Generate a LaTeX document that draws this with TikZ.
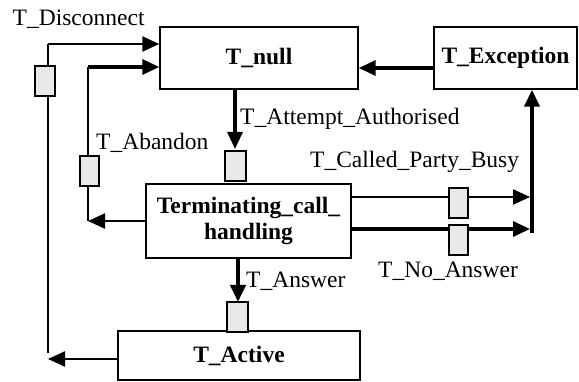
\documentclass[tikz,border=0pt]{standalone}
\usepackage{fontspec}
\setmainfont{Liberation Serif}
\usetikzlibrary{arrows.meta}
\begin{document}
\begin{tikzpicture}[x=1pt,y=-1pt,
  state/.style={draw,line width=1.4pt,inner sep=0pt,font=\fontsize{23.5}{26}\selectfont\bfseries,align=center},
  port/.style={draw,line width=1.4pt,fill=gray!18,inner sep=0pt,minimum width=20pt,minimum height=30pt},
  lbl/.style={inner sep=0pt,anchor=base west,font=\fontsize{23.5}{26}\selectfont},
  tip/.style={-{Triangle[length=17pt,width=15pt]}},
  thin/.style={line width=1.5pt},
  mid/.style={line width=2.4pt},
  thick3/.style={line width=3.2pt},
  thick4/.style={line width=4pt}]
\useasboundingbox (0,0) rectangle (579,382);
% states
\node[state,minimum width=198pt,minimum height=62pt] (null) at (259,58) {T\_null};
\node[state,minimum width=143pt,minimum height=62pt] (exc) at (505.5,58) {T\_Exception};
\node[state,minimum width=205pt,minimum height=74pt] (term) at (248.5,221) {Terminating\_call\_\\handling};
\node[state,minimum width=242pt,minimum height=49pt] (act) at (239,355.5) {T\_Active};
% coordinates
\coordinate (dtop) at (48,44);
\coordinate (dbot) at (48,353);
\coordinate (dend) at (48,359);
\coordinate (atop) at (88,67);
\coordinate (abot) at (88,221);
\coordinate (attip) at (235,149);
\coordinate (antip) at (238,302);
\coordinate (bustip) at (530,197);
\coordinate (natip) at (530,229);
\coordinate (vbot) at (532,233);
% connectors
\draw[thin] (dbot) -- (dtop);
\draw[mid,tip] (dtop) -- (dtop -| null.west);
\draw[mid,tip] (act.west |- dend) -- (dend);
\draw[thin] (abot) -- (atop);
\draw[thick3,tip] (atop) -- (atop -| null.west);
\draw[mid,tip] (term.west |- abot) -- (abot);
\draw[thick3,tip] (null.south -| attip) -- (attip);
\draw[thick4,tip] (term.south -| antip) -- (antip);
\draw[mid,tip] (term.east |- bustip) -- (bustip);
\draw[thick3,tip] (term.east |- natip) -- (natip);
\draw[thick4,tip] (vbot) -- (vbot |- exc.south);
\draw[thick3,tip] (exc.west |- 0,68) -- (null.east |- 0,68);
% ports
\node[port] (p1) at (45,81) {};
\node[port,minimum width=19pt] (p2) at (89.5,171) {};
\node[port,minimum width=21pt] (p3) at (235.5,166) {};
\node[port,minimum width=21pt] (p4) at (237.5,317) {};
\node[port,minimum width=19pt] (p5) at (458.5,203) {};
\node[port,minimum width=19pt] (p6) at (458.5,240) {};
% labels
\node[lbl] (l1) at (12.5,26) {T\_Disconnect};
\node[lbl] (l2) at (240,125) {T\_Attempt\_Authorised};
\node[lbl] (l3) at (96,150) {T\_Abandon};
\node[lbl] (l4) at (310,168) {T\_Called\_Party\_Busy};
\node[lbl] (l5) at (246,288) {T\_Answer};
\node[lbl] (l6) at (378,278) {T\_No\_Answer};
\end{tikzpicture}
\end{document}
